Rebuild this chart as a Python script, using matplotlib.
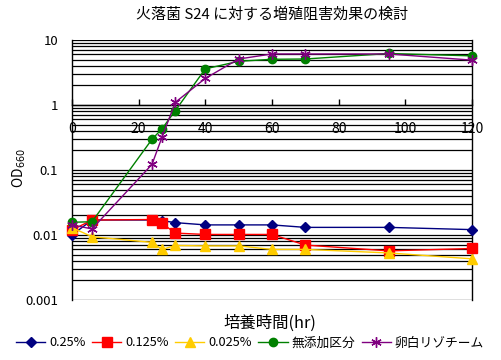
import matplotlib
matplotlib.use("Agg")
import matplotlib.pyplot as plt
from matplotlib.ticker import FixedLocator, NullFormatter

plt.rcParams['font.family'] = ['Noto Sans CJK JP', 'DejaVu Sans']

hours = [0, 6, 24, 27, 31, 40, 50, 60, 70, 95, 120]
s025 = [0.0100, 0.0170, 0.0170, 0.0166, 0.0155, 0.0143, 0.0143, 0.0143, 0.0131, 0.0131, 0.0121]
s0125 = [0.0119, 0.0170, 0.0173, 0.0151, 0.0107, 0.0102, 0.0102, 0.0102, 0.0070, 0.0057, 0.0062]
s0025 = [0.0130, 0.0094, 0.0077, 0.0060, 0.0069, 0.0068, 0.0068, 0.0060, 0.0060, 0.0053, 0.0043]
control = [0.0157, 0.0160, 0.297, 0.43, 0.82, 3.6, 4.7, 5.05, 5.1, 6.2, 5.7]
lysozyme = [0.0143, 0.0124, 0.122, 0.32, 1.1, 2.57, 5.1, 6.1, 6.1, 6.1, 4.9]

labels = ['0.25%', '0.125%', '0.025%', '無添加区分', '卵白リゾチーム']
series = [s025, s0125, s0025, control, lysozyme]
colors = ['#000080', '#FF0000', '#FFCC00', '#008000', '#800080']
markers = ['D', 's', '^', 'o', (6, 2, 0)]
msizes = [5.5, 6.5, 7, 6, 7.5]

xticks = [0, 20, 40, 60, 80, 100, 120]
yticks = [0.001, 0.01, 0.1, 1, 10]
ytick_labels = ['0.001', '0.01', '0.1', '1', '10']

fig = plt.figure(figsize=(5.01, 3.6), dpi=100)
ax = fig.add_axes([72/501, 1-300/360, 400/501, 260/360])

ax.set_yscale('log')
ax.set_ylim(0.001, 10)
ax.set_xlim(0, 120)

# gridlines at all log ticks
minor = [m * 10**e for e in range(-3, 1) for m in range(2, 10)]
for v in yticks + minor:
    ax.axhline(v, color='black', lw=0.9, zorder=0)

handles = []
for vals, lab, c, mk, ms in zip(series, labels, colors, markers, msizes):
    h, = ax.plot(hours, vals, color=c, marker=mk, markersize=ms, lw=1.0,
                 markerfacecolor=c, markeredgecolor=c, label=lab, clip_on=False, zorder=3)
    handles.append(h)

ax.set_yticks(yticks)
ax.set_yticklabels(ytick_labels)
ax.yaxis.set_minor_locator(FixedLocator(minor))
ax.yaxis.set_minor_formatter(NullFormatter())
ax.tick_params(axis='y', which='both', length=0, labelsize=9.5, pad=10)

ax.spines['bottom'].set_position(('data', 1))
ax.spines['top'].set_visible(False)
for sp in ['left', 'right', 'bottom']:
    ax.spines[sp].set_color('black')
    ax.spines[sp].set_linewidth(1.0)
ax.set_xticks(xticks)
ax.set_xticklabels([str(t) for t in xticks])
ax.tick_params(axis='x', direction='in', length=4, width=1, labelsize=10, pad=12.5)

fig.text(272/501, 1-15/360, '火落菌 S24 に対する増殖阻害効果の検討', ha='center', va='center', fontsize=10.8)
fig.text(270/501, 1-323/360, '培養時間(hr)', ha='center', va='center', fontsize=11.8)
fig.text(19/501, 1-168/360, 'OD$_{660}$', ha='center', va='center', rotation=90, fontsize=10)

fig.legend(handles=handles, loc='center', bbox_to_anchor=(250/501, 1-343/360), ncol=5,
           frameon=False, fontsize=9.2, handlelength=2.3, columnspacing=0.5, handletextpad=0.3,
           borderaxespad=0, borderpad=0)

fig.savefig('out.png', dpi=100)
